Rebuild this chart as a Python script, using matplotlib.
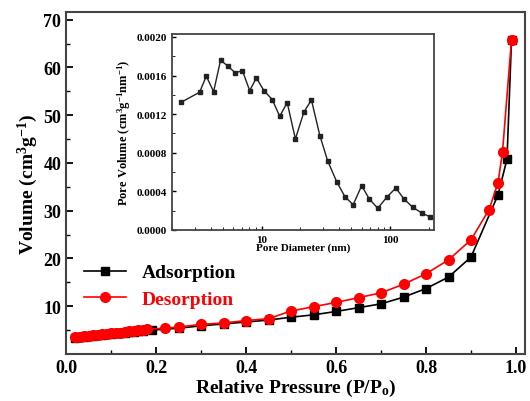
import matplotlib.pyplot as plt
import matplotlib.ticker as mticker
import numpy as np

plt.rcParams["font.family"] = "Liberation Serif"
plt.rcParams["font.weight"] = "bold"
plt.rcParams["axes.labelweight"] = "bold"
plt.rcParams["mathtext.fontset"] = "custom"
plt.rcParams["mathtext.rm"] = "Liberation Serif:bold"
plt.rcParams["mathtext.it"] = "Liberation Serif:bold"
plt.rcParams["mathtext.bf"] = "Liberation Serif:bold"

# Isotherm data
p_ads = [0.02, 0.03, 0.04, 0.05, 0.06, 0.07, 0.08, 0.09, 0.10, 0.11, 0.12, 0.13,
         0.14, 0.15, 0.16, 0.17, 0.19, 0.25, 0.30, 0.35, 0.40, 0.45, 0.50, 0.55,
         0.60, 0.65, 0.70, 0.75, 0.80, 0.85, 0.90, 0.96, 0.98, 0.99]
v_ads = [3.4, 3.5, 3.6, 3.7, 3.8, 3.9, 4.0, 4.1, 4.2, 4.3, 4.4, 4.5,
         4.6, 4.7, 4.8, 4.9, 5.0, 5.4, 5.9, 6.3, 6.7, 7.1, 7.7, 8.2,
         8.9, 9.7, 10.5, 11.9, 13.7, 16.1, 20.3, 33.3, 40.8, 65.8]
p_des = [0.99, 0.97, 0.96, 0.94, 0.90, 0.85, 0.80, 0.75, 0.70, 0.65, 0.60, 0.55,
         0.50, 0.45, 0.40, 0.35, 0.30, 0.25, 0.22, 0.18, 0.17, 0.16, 0.15, 0.14,
         0.13, 0.12, 0.11, 0.10, 0.09, 0.08, 0.07, 0.06, 0.05, 0.04, 0.03, 0.02]
v_des = [65.8, 42.3, 35.8, 30.2, 23.9, 19.7, 16.8, 14.6, 12.8, 11.8, 10.8, 9.9,
         9.0, 7.4, 7.0, 6.5, 6.2, 5.65, 5.4, 5.2, 5.1, 5.0, 4.9, 4.8,
         4.65, 4.5, 4.4, 4.3, 4.2, 4.1, 4.0, 3.9, 3.8, 3.7, 3.6, 3.5]

# Pore size distribution
pore_d = [2.36, 3.28, 3.70, 4.22, 4.78, 5.46, 6.23, 7.07, 8.06, 9.09, 10.4, 12.1,
          13.8, 15.8, 18.3, 21.3, 24.4, 28.4, 32.6, 38.4, 44.5, 51.6, 60.1, 68.9,
          80.2, 94.2, 110.9, 128.5, 150.3, 177.0, 203.0]
pore_v = [0.001323, 0.001427, 0.001593, 0.001433, 0.001759, 0.001696, 0.001627,
          0.001651, 0.001444, 0.001575, 0.001444, 0.00135, 0.001178, 0.001319,
          0.000943, 0.00122, 0.001347, 0.000977, 0.000718, 0.0005, 0.000345,
          0.000262, 0.000459, 0.000321, 0.000225, 0.000339, 0.000435, 0.000321,
          0.000235, 0.000176, 0.000138]

fig = plt.figure(figsize=(5.3, 4.02), dpi=100)
ax = fig.add_axes([66 / 530, 1 - 355 / 402, 459 / 530, 342 / 402])

ax.plot(p_ads, v_ads, "-s", color="black", markersize=6, lw=1.2, label="Adsorption")
ax.plot(p_des, v_des, "-o", color="red", markersize=7, lw=1.2, label="Desorption")

ax.set_xlim(0, 1.02)
ax.set_ylim(0, 71.6)
ax.set_xticks([0.0, 0.2, 0.4, 0.6, 0.8, 1.0])
ax.set_xticks([0.1, 0.3, 0.5, 0.7, 0.9], minor=True)
ax.set_yticks([10, 20, 30, 40, 50, 60, 70])
ax.set_yticks(np.arange(5, 71, 10), minor=True)
ax.tick_params(direction="in", labelsize=13, length=5, width=1.3)
ax.tick_params(which="minor", direction="in", length=3, width=1)
ax.set_xlabel("Relative Pressure (P/P$_{o}$)", fontsize=14, labelpad=1)
ax.set_ylabel("Volume (cm$^{3}$g$^{-1}$)", fontsize=14, labelpad=2)
for s in ax.spines.values():
    s.set_linewidth(1.5)
    s.set_color("#444444")

leg = ax.legend(loc="upper left", bbox_to_anchor=(0.0, 0.315), frameon=False,
                fontsize=14, handlelength=2.2, labelspacing=0.45)
leg.get_texts()[1].set_color("red")

# Inset
ins = fig.add_axes([172 / 530, 1 - 231 / 402, 262 / 530, 196 / 402])
ins.plot(pore_d, pore_v, "-s", color="#222222", markersize=2.5, lw=1)
ins.set_xscale("log")
ins.set_xlim(2, 220)
ins.set_ylim(0, 0.00203)
ins.xaxis.set_major_locator(mticker.FixedLocator([10, 100]))
ins.xaxis.set_major_formatter(mticker.FixedFormatter(["10", "100"]))
ins.set_yticks([0.0, 0.0004, 0.0008, 0.0012, 0.0016, 0.0020])
ins.set_yticklabels(["0.0000", "0.0004", "0.0008", "0.0012", "0.0016", "0.0020"])
ins.set_yticks(np.arange(0.0002, 0.002, 0.0004), minor=True)
ins.tick_params(direction="in", labelsize=8, length=3, width=1)
ins.tick_params(which="minor", direction="in", length=2)
ins.set_xlabel("Pore Diameter (nm)", fontsize=8, labelpad=-1)
ins.set_ylabel("Pore Volume (cm$^{3}$g$^{-1}$nm$^{-1}$)", fontsize=9, labelpad=3)
for s in ins.spines.values():
    s.set_linewidth(1.3)
    s.set_color("#444444")

fig.savefig("out.png", dpi=100)
